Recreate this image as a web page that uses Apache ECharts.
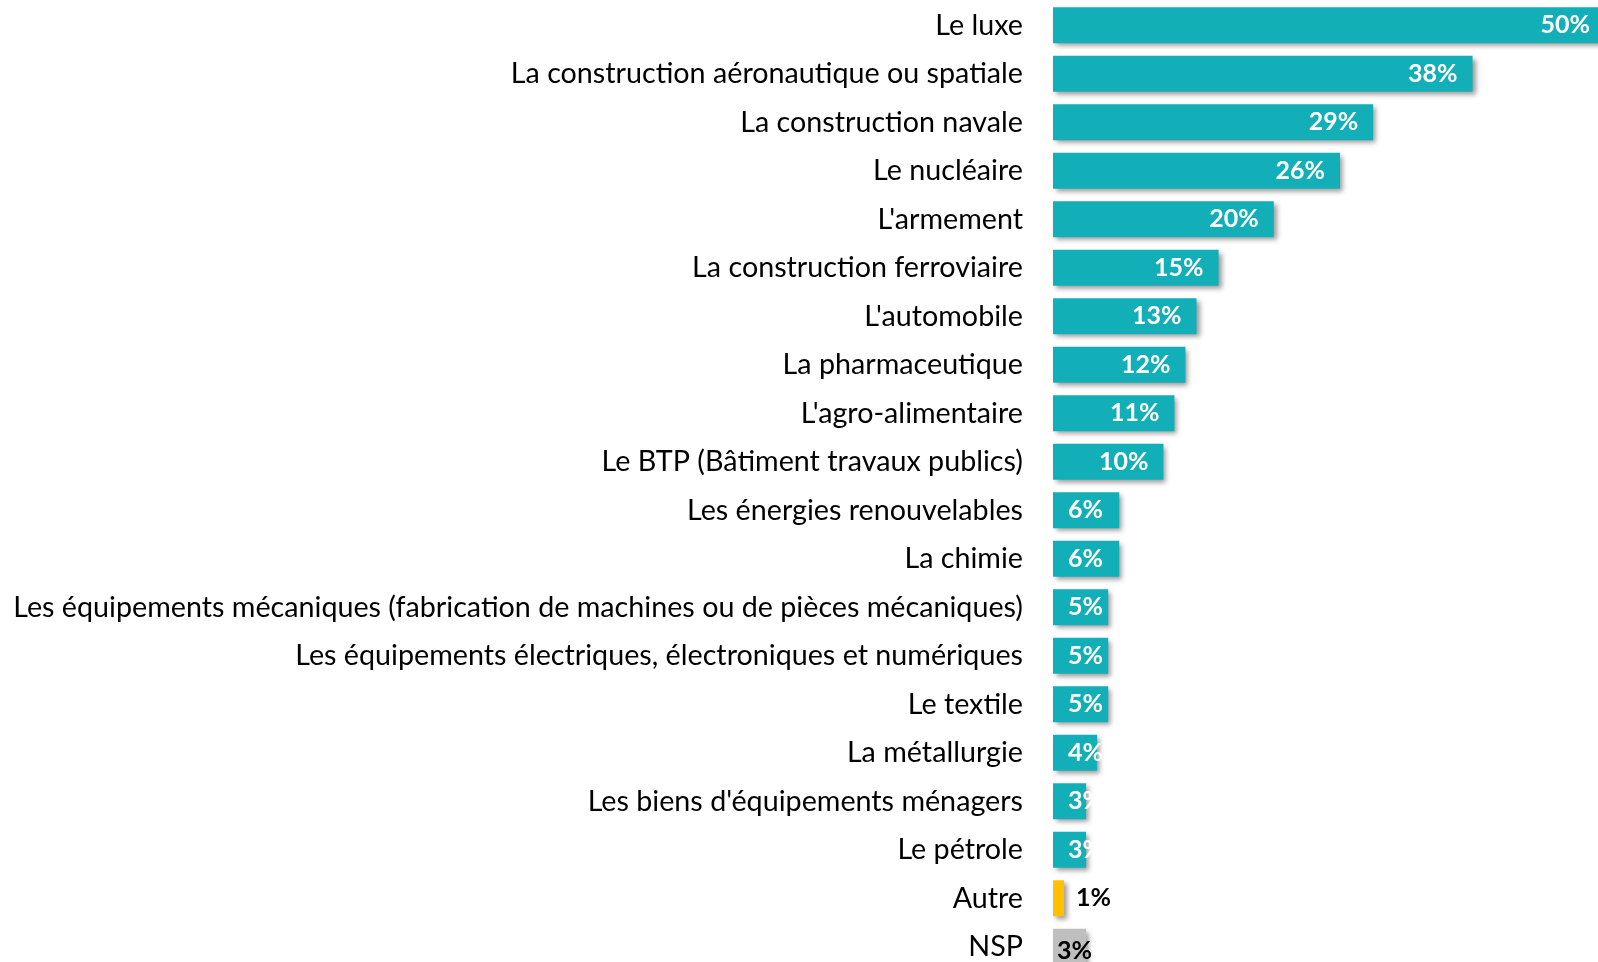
<!DOCTYPE html>
<html>
<head>
<meta charset="utf-8">
<script src="https://cdn.jsdelivr.net/npm/echarts@6/dist/echarts.min.js"></script>
<style>
  html, body { margin: 0; padding: 0; background: #fff; overflow: hidden; }
  /* un peu plus grand que la fenêtre : la première et la dernière barre sont coupées dans l'original */
  #chart { width: 1610px; height: 972px; }
</style>
</head>
<body>
<div id="chart"></div>
<script>
// secteurs (de haut en bas)
var categories = [
    'Le luxe',
    'La construction aéronautique ou spatiale',
    'La construction navale',
    'Le nucléaire',
    "L'armement",
    'La construction ferroviaire',
    "L'automobile",
    'La pharmaceutique',
    "L'agro-alimentaire",
    'Le BTP (Bâtiment travaux publics)',
    'Les énergies renouvelables',
    'La chimie',
    'Les équipements mécaniques (fabrication de machines ou de pièces mécaniques)',
    'Les équipements électriques, électroniques et numériques',
    'Le textile',
    'La métallurgie',
    "Les biens d'équipements ménagers",
    'Le pétrole',
    'Autre',
    'NSP'
];
var values = [50, 38, 29, 26, 20, 15, 13, 12, 11, 10, 6, 6, 5, 5, 5, 4, 3, 3, 1, 3];

var TEAL = '#13afb8';
var FONT = 'Lato, "Noto Sans", sans-serif';

var seriesData = values.map(function (v, i) {
    var name = categories[i];
    var item = { value: v };
    var label = {};
    if (name === 'Autre') {
        item.itemStyle = { color: '#ffc000' };
        label = { position: 'right', distance: 12, color: '#000' };
    } else if (name === 'NSP') {
        item.itemStyle = { color: '#bfbfbf' };
        label = { position: 'insideLeft', distance: 4, color: '#000', offset: [0, 4] };
    } else if (v <= 6) {
        // trop court : Excel cale l'étiquette au début de la barre
        label = { position: 'insideLeft', distance: 15 };
    }
    item.label = label;
    return item;
});

var chart = echarts.init(document.getElementById('chart'));
chart.setOption({
    animation: false,
    grid: {
        left: 1053,
        width: 552,
        top: 1,
        height: 970,
        containLabel: false,
        outerBoundsMode: 'none'
    },
    xAxis: {
        type: 'value',
        min: 0,
        max: 50,
        show: false
    },
    yAxis: {
        type: 'category',
        data: categories,
        inverse: true,
        axisLine: { show: false },
        axisTick: { show: false },
        axisLabel: {
            margin: 30,
            color: '#000',
            fontSize: 28.7,
            fontFamily: FONT
        }
    },
    series: [{
        type: 'bar',
        data: seriesData,
        barCategoryGap: '26%',
        itemStyle: {
            color: TEAL,
            shadowColor: 'rgba(0,0,0,0.4)',
            shadowBlur: 5,
            shadowOffsetX: 3,
            shadowOffsetY: 3
        },
        label: {
            show: true,
            position: 'insideRight',
            distance: 15,
            color: '#fff',
            fontWeight: 'bold',
            fontSize: 25,
            fontFamily: FONT,
            formatter: '{c}%'
        }
    }]
});
</script>
</body>
</html>
